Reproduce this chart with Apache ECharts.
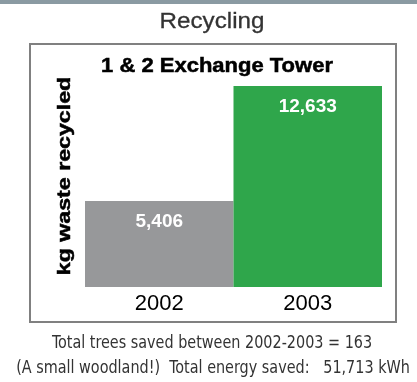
<!DOCTYPE html>
<html>
<head>
<meta charset="utf-8">
<script src="https://cdn.jsdelivr.net/npm/echarts@6/dist/echarts.min.js"></script>
<style>
html,body{margin:0;padding:0;background:#fff;}
#chart{width:417px;height:382px;}
</style>
</head>
<body>
<div id="chart"></div>
<script>
const categories = ['2002', '2003'];
const values = [5406, 12633];
const barColors = ['#97989a', '#2fa64b'];
const titleText = 'Recycling';
const subtitleText = '1 & 2 Exchange Tower';
const yAxisName = 'kg waste recycled';
const footerLines = [
  'Total trees saved between 2002-2003 = 163',
  '(A small woodland!)  Total energy saved:   51,713 kWh'
];

const chart = echarts.init(document.getElementById('chart'), null, {renderer: 'canvas'});
const footerFont = '"DejaVu Sans Condensed", "Liberation Sans Narrow", sans-serif';

chart.setOption({
  animation: false,
  backgroundColor: '#ffffff',
  grid: {left: 85, right: 35, top: 86, bottom: 95, containLabel: false},
  xAxis: {
    type: 'category',
    data: categories,
    axisLine: {show: false},
    axisTick: {show: false},
    axisLabel: {
      color: '#000',
      fontSize: 22,
      fontFamily: '"Liberation Sans", Arial, sans-serif',
      margin: 6
    }
  },
  yAxis: {
    type: 'value',
    min: 0,
    max: 'dataMax',
    show: false,
    splitLine: {show: false}
  },
  series: [{
    type: 'bar',
    barCategoryGap: '0%',
    barWidth: '100%',
    data: values.map((v, i) => ({value: v, itemStyle: {color: barColors[i]}})),
    label: {
      show: true,
      position: 'insideTop',
      distance: 11,
      color: '#fff',
      fontSize: 19,
      fontWeight: 'bold',
      fontFamily: '"Liberation Sans", Arial, sans-serif',
      formatter: p => p.value.toLocaleString('en-US')
    }
  }],
  graphic: [
    {type: 'rect', shape: {x: 0, y: 0, width: 417, height: 4}, style: {fill: '#8a9aa2'}, silent: true},
    {type: 'rect', shape: {x: 30, y: 44, width: 366, height: 278}, style: {fill: 'none', stroke: '#808080', lineWidth: 2}, silent: true},
    {type: 'text', x: 212, y: 22, scaleX: 1.1, style: {text: titleText, fill: '#333', stroke: '#333', lineWidth: 0.3, font: '22px "Liberation Sans", Arial, sans-serif', textAlign: 'center', textVerticalAlign: 'middle'}},
    {type: 'text', x: 217, y: 66, scaleX: 1.1, style: {text: subtitleText, fill: '#000', stroke: '#000', lineWidth: 0.5, font: 'bold 20px "Liberation Sans", Arial, sans-serif', textAlign: 'center', textVerticalAlign: 'middle'}},
    {type: 'text', x: 65, y: 176, rotation: Math.PI / 2, scaleX: 1.22, style: {text: yAxisName, fill: '#000', stroke: '#000', lineWidth: 0.5, font: 'bold 19px "Liberation Sans", Arial, sans-serif', textAlign: 'center', textVerticalAlign: 'middle'}},
    {type: 'text', x: 212, y: 343, scaleY: 1.12, style: {text: footerLines[0], fill: '#333', font: '16px ' + footerFont, textAlign: 'center', textVerticalAlign: 'middle'}},
    {type: 'text', x: 213, y: 368, scaleY: 1.12, style: {text: footerLines[1], fill: '#333', font: '16px ' + footerFont, textAlign: 'center', textVerticalAlign: 'middle'}}
  ]
});
</script>
</body>
</html>
